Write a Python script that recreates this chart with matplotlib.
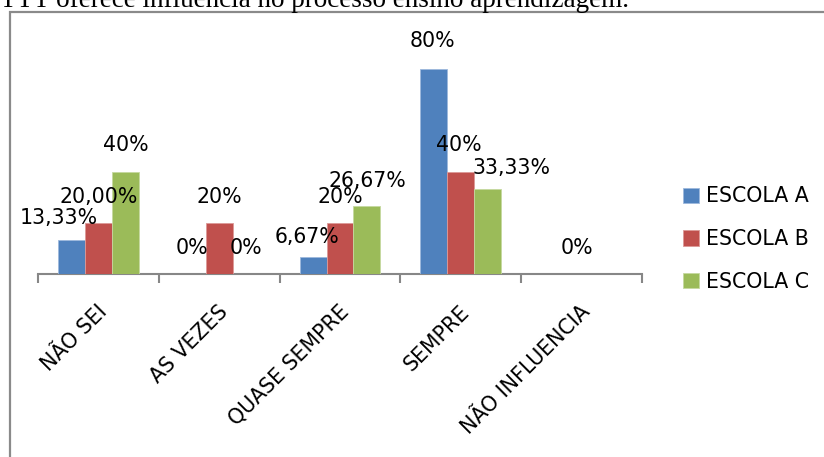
import matplotlib
matplotlib.use("Agg")
import matplotlib.pyplot as plt
import numpy as np
from matplotlib.patches import Rectangle
from matplotlib.transforms import ScaledTranslation

# Survey answers per school (percent of respondents)
categories = ["NÃO SEI", "AS VEZES", "QUASE SEMPRE", "SEMPRE", "NÃO INFLUENCIA"]
series_names = ["ESCOLA A", "ESCOLA B", "ESCOLA C"]
escola_a = [13.33, 0, 6.67, 80, 0]
escola_b = [20.00, 20, 20, 40, 0]
escola_c = [40, 0, 26.67, 33.33, 0]

# Decimal places used in each data label (series x category)
label_decimals = [
    [2, 0, 2, 0, 0],
    [2, 0, 0, 0, 0],
    [0, 0, 2, 2, 0],
]
# Only one label is shown for the all-zero group
label_visible = [
    [True, True, True, True, False],
    [True, True, True, True, True],
    [True, True, True, True, False],
]

title_text = "TTT oferece influência no processo ensino aprendizagem."

colors = ["#4F81BD", "#C0504D", "#9BBB59"]
edge_colors = ["#9DB8DC", "#DC9997", "#C5D9A0"]
axis_gray = "#878787"

W, H, DPI = 824, 457, 100
fig = plt.figure(figsize=(W / DPI, H / DPI), dpi=DPI)
plt.rcParams["font.family"] = ["DejaVu Sans"]
FS = 14.8


def px(x0, y0, w, h):
    """Convert a pixel box (top-left origin) to figure fractions."""
    return [x0 / W, 1 - (y0 + h) / H, w / W, h / H]


ax = fig.add_axes(px(38, 274 - 230.4, 604, 230.4))
ax.set_xlim(0, len(categories))
ax.set_ylim(0, 90)

values = [escola_a, escola_b, escola_c]
bar_w = 0.223
x = np.arange(len(categories)) + 0.5
bars = []
for s, vals in enumerate(values):
    b = ax.bar(x + (s - 1) * bar_w, vals, width=bar_w, color=colors[s],
               edgecolor=edge_colors[s], linewidth=0.6, label=series_names[s],
               zorder=3)
    bars.append(b)

# Label offsets in pixels relative to the top centre of each bar
default_off = (0, 26)
special_off = {
    (0, 0): (-12.5, 22),
    (0, 2): (-6.5, 20),
    (0, 3): (-1.5, 28),
    (1, 3): (-1.5, 27),
    (2, 3): (23.5, 21),
    (1, 4): (-4.5, 26),
    (2, 2): (0, 25),
    (2, 0): (0, 27),
}
for s, vals in enumerate(values):
    for i, v in enumerate(vals):
        if not label_visible[s][i]:
            continue
        txt = f"{v:.{label_decimals[s][i]}f}".replace(".", ",") + "%"
        dx, dy = special_off.get((s, i), default_off)
        ax.annotate(txt, xy=(x[i] + (s - 1) * bar_w, v),
                    xytext=(dx * 72 / DPI, dy * 72 / DPI),
                    textcoords="offset points", ha="center", va="center",
                    fontsize=FS, color="black", zorder=5,
                    annotation_clip=False)

# Axis styling: only the category axis is drawn
for sp in ["left", "right", "top"]:
    ax.spines[sp].set_visible(False)
ax.spines["bottom"].set_color(axis_gray)
ax.spines["bottom"].set_linewidth(1.5)
ax.set_yticks([])
ax.set_xticks(x)
ax.set_xticklabels(categories, rotation=45, ha="right", va="baseline",
                   rotation_mode="anchor", fontsize=FS)
ax.tick_params(axis="x", which="major", length=0, pad=39 * 72 / DPI)
ax.set_xticks(np.arange(len(categories) + 1), minor=True)
ax.tick_params(axis="x", which="minor", length=9 * 72 / DPI, width=1.5,
               color=axis_gray, direction="out")
shift = ScaledTranslation(10 / DPI, 0, fig.dpi_scale_trans)
for lab in ax.get_xticklabels():
    lab.set_transform(lab.get_transform() + shift)
ax.patch.set_visible(False)

# Legend
fig.legend(handles=bars, labels=series_names, loc="center left",
           bbox_to_anchor=(683 / W, 1 - 239 / H), frameon=False,
           fontsize=FS, handlelength=0.78, handleheight=0.78,
           handletextpad=0.34, labelspacing=1.1, borderpad=0,
           borderaxespad=0)

# Chart border (runs off the right and bottom edges)
fig.patches.append(Rectangle((10 / W, -0.1), 1.2, 1 - 12.5 / H + 0.1,
                             transform=fig.transFigure, fill=False,
                             edgecolor="#8A8A8A", linewidth=1.6))

# Caption line above the chart
fig.text(0, 1 - 7 / H, title_text, family="Liberation Serif", fontsize=19.5,
         ha="left", va="baseline", color="black")

fig.savefig("out.png", dpi=DPI)
